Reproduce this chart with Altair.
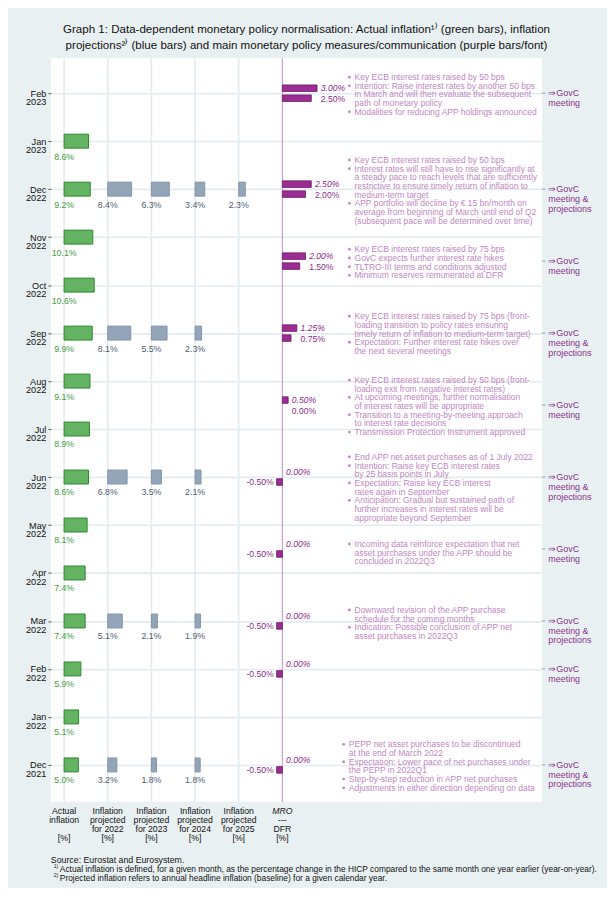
import altair as alt
import pandas as pd

# ---------------- data ----------------
months = ["Dec 2021", "Jan 2022", "Feb 2022", "Mar 2022", "Apr 2022", "May 2022",
          "Jun 2022", "Jul 2022", "Aug 2022", "Sep 2022", "Oct 2022", "Nov 2022",
          "Dec 2022", "Jan 2023", "Feb 2023"]
actual_inflation = [5.0, 5.1, 5.9, 7.4, 7.4, 8.1, 8.6, 8.9, 9.1, 9.9, 10.6, 10.1, 9.2, 8.6, None]

proj_months = ["Dec 2021", "Mar 2022", "Jun 2022", "Sep 2022", "Dec 2022"]
proj_2022 = [3.2, 5.1, 6.8, 8.1, 8.4]
proj_2023 = [1.8, 2.1, 3.5, 5.5, 6.3]
proj_2024 = [1.8, 1.9, 2.1, 2.3, 3.4]
proj_2025 = [None, None, None, None, 2.3]

# meeting position on the month axis (index into months; .5 = between two months)
meeting_pos = [14, 12, 10.5, 9, 7.5, 6, 4.5, 3, 2, 0]
mro_rate = [3.00, 2.50, 2.00, 1.25, 0.50, 0.00, 0.00, 0.00, 0.00, 0.00]
dfr_rate = [2.50, 2.00, 1.50, 0.75, 0.00, -0.50, -0.50, -0.50, -0.50, -0.50]
meeting_type = ["⇒GovC\nmeeting", "⇒GovC\nmeeting &\nprojections", "⇒GovC\nmeeting",
                "⇒GovC\nmeeting &\nprojections", "⇒GovC\nmeeting", "⇒GovC\nmeeting &\nprojections",
                "⇒GovC\nmeeting", "⇒GovC\nmeeting &\nprojections", "⇒GovC\nmeeting",
                "⇒GovC\nmeeting &\nprojections"]
measures = [
    [["Key ECB interest rates raised by 50 bps"],
     ["Intention: Raise interest rates by another 50 bps",
      "in March and will then evaluate the subsequent", "path of monetary policy"],
     ["Modalities for reducing APP holdings announced"]],
    [["Key ECB interest rates raised by 50 bps"],
     ["Interest rates will still have to rise significantly at",
      "a steady pace to reach levels that are sufficiently",
      "restrictive to ensure timely return of inflation to", "medium-term target"],
     ["APP portfolio will decline by € 15 bn/month on",
      "average from beginning of March until end of Q2",
      "(subsequent pace will be determined over time)"]],
    [["Key ECB interest rates raised by 75 bps"],
     ["GovC expects further interest rate hikes"],
     ["TLTRO-III terms and conditions adjusted"],
     ["Minimum reserves remunerated at DFR"]],
    [["Key ECB interest rates raised by 75 bps (front-",
      "loading transition to policy rates ensuring",
      "timely return of inflation to medium-term target)"],
     ["Expectation: Further interest rate hikes over", "the next several meetings"]],
    [["Key ECB interest rates raised by 50 bps (front-",
      "loading exit from negative interest rates)"],
     ["At upcoming meetings, further normalisation",
      "of interest rates will be appropriate"],
     ["Transition to a meeting-by-meeting approach", "to interest rate decisions"],
     ["Transmission Protection Instrument approved"]],
    [["End APP net asset purchases as of 1 July 2022"],
     ["Intention: Raise key ECB interest rates", "by 25 basis points in July"],
     ["Expectation: Raise key ECB interest", "rates again in September"],
     ["Anticipation: Gradual but sustained path of",
      "further increases in interest rates will be", "appropriate beyond September"]],
    [["Incoming data reinforce expectation that net",
      "asset purchases under the APP should be", "concluded in 2022Q3"]],
    [["Downward revision of the APP purchase", "schedule for the coming months"],
     ["Indication: Possible conclusion of APP net", "asset purchases in 2022Q3"]],
    [],
    [["PEPP net asset purchases to be discontinued", "at the end of March 2022"],
     ["Expectation: Lower pace of net purchases under", "the PEPP in 2022Q1"],
     ["Step-by-step reduction in APP net purchases"],
     ["Adjustments in either direction depending on data"]],
]
column_labels = ["Actual\ninflation", "Inflation\nprojected\nfor 2022",
                 "Inflation\nprojected\nfor 2023", "Inflation\nprojected\nfor 2024",
                 "Inflation\nprojected\nfor 2025", "MRO\n---\nDFR"]
column_units = ["[%]", "[%]", "[%]", "[%]", "[%]", "[%]"]
title_lines = ["Graph 1: Data-dependent monetary policy normalisation: Actual inflation¹⁾ (green bars), inflation",
               "projections²⁾ (blue bars) and main monetary policy measures/communication (purple bars/font)"]
source_text = "Source: Eurostat and Eurosystem."
note1 = "Actual inflation is defined, for a given month, as the percentage change in the HICP compared to the same month one year earlier (year-on-year)."
note2 = "Projected inflation refers to annual headline inflation (baseline) for a given calendar year."
note_marks = ["1)", "2)"]

# ---------------- layout (pixels) ----------------
W, H = 493, 746
Y_TOP, Y_BOT = 14.727, -0.769
PPM = H / (Y_TOP - Y_BOT)          # pixels per month
COL0, COLSTEP = 13.3, 43.8         # column base positions
K_INFL, K_RATE = 2.85, 11.6        # px per percentage point
LINE_H = 8.7
block_offset_px = [1.3, 1.2, 1.2, 0.5, 1.0, 10.3, 3.7, 2.0, 0.0, 1.2]
block_shift_px = [0, 0, 0, 0, 0, 0, 0, 0, 0, -5.7]
TEXT_X = 304.7

FONT = "Liberation Sans"
GREEN_FILL, GREEN_STROKE, GREEN_TXT = "#63B363", "#2F8A2F", "#3E9B3E"
BLUE_FILL, BLUE_STROKE, BLUE_TXT = "#93A5B9", "#8295A9", "#4D5D70"
PURPLE_FILL, PURPLE_STROKE, PURPLE_TXT = "#9A2C94", "#6F1D6B", "#8C2C88"
BULLET_TXT = "#BE88C1"
GOVC_TXT = "#8B348B"
GRID = "#E4EBEF"


def col_base(c):
    return COL0 + COLSTEP * c


# inflation bars
rows = []
for i, v in enumerate(actual_inflation):
    if v is not None:
        rows.append(dict(col=0, pos=i, val=v, kind="actual"))
for j, pm in enumerate(proj_months):
    for c, arr in enumerate([proj_2022, proj_2023, proj_2024, proj_2025], start=1):
        if arr[j] is not None:
            rows.append(dict(col=c, pos=months.index(pm), val=arr[j], kind="proj"))
infl = pd.DataFrame(rows)
infl["x"] = infl["col"].map(col_base)
infl["x2"] = infl["x"] + infl["val"] * K_INFL
infl["y"] = infl["pos"] + 7 / PPM
infl["y2"] = infl["pos"] - 7 / PPM
infl["label"] = infl["val"].map(lambda v: f"{v:.1f}%")

# policy rates
base5 = col_base(5)
rate_rows = []
for p, m, d in zip(meeting_pos, mro_rate, dfr_rate):
    lab_x = base5 + max(m, 0) * K_RATE + 3.7
    rate_rows.append(dict(pos=p, rate="MRO", val=m, x=base5, x2=base5 + m * K_RATE,
                          y=p + 1.7 / PPM, y2=p + 8.3 / PPM, lx=lab_x, label=f"{m:.2f}%"))
    rate_rows.append(dict(pos=p, rate="DFR", val=d, x=base5, x2=base5 + d * K_RATE,
                          y=p - 1.7 / PPM, y2=p - 8.3 / PPM,
                          lx=lab_x if d >= 0 else base5 + d * K_RATE - 3, label=f"{d:.2f}%"))
rates = pd.DataFrame(rate_rows)

# measure text lines
line_rows = []
for b, bullets in enumerate(measures):
    lines = []
    for bl in bullets:
        for k, t in enumerate(bl):
            lines.append((t, k == 0))
    n = len(lines)
    for i, (t, is_bullet) in enumerate(lines):
        off = block_offset_px[b] + (i - (n - 1) / 2) * LINE_H
        line_rows.append(dict(text=t, bullet=is_bullet, y=meeting_pos[b] - off / PPM,
                              x=TEXT_X + block_shift_px[b], bx=TEXT_X + block_shift_px[b] - 5.2))
lines_df = pd.DataFrame(line_rows)

meet_df = pd.DataFrame(dict(pos=meeting_pos, label=meeting_type))
cols_df = pd.DataFrame(dict(col=list(range(6)), label=column_labels, unit=column_units))
cols_df["x"] = cols_df["col"].map(col_base)

# ---------------- encodings ----------------
xs = alt.Scale(domain=[0, W], nice=False, zero=False)
ys = alt.Scale(domain=[Y_BOT, Y_TOP], nice=False, zero=False)
js_months = "[" + ",".join(f"'{m}'" for m in months) + "]"
yaxis = alt.Axis(values=list(range(len(months))),
                 labelExpr=f"split({js_months}[round(datum.value)], ' ')",
                 title=None, domain=False, ticks=True, tickSize=3, tickColor="#555555",
                 labelFontSize=9.2, labelLineHeight=8.6, labelColor="#111111", labelPadding=2,
                 labelFont=FONT, labelBaseline="middle", labelAlign="right",
                 grid=True, gridColor=GRID, gridWidth=1.6)


def X(f):
    return alt.X(f, type="quantitative", scale=xs, axis=None)


def X2(f):
    return alt.X2(f)


def Y(f):
    return alt.Y(f, type="quantitative", scale=ys, axis=yaxis)


layers = []

# vertical gridlines
layers.append(alt.Chart(cols_df[cols_df.col < 5]).mark_rule(color=GRID, strokeWidth=1.6)
              .encode(x=X("x")))
layers.append(alt.Chart(cols_df[cols_df.col == 5]).mark_rule(color="#C7A2D0", strokeWidth=1.2)
              .encode(x=X("x")))

# inflation bars
act = infl[infl.kind == "actual"]
prj = infl[infl.kind == "proj"]
layers.append(alt.Chart(act).mark_rect(fill=GREEN_FILL, stroke=GREEN_STROKE, strokeWidth=1)
              .encode(x=X("x"), x2=X2("x2"), y=Y("y"), y2=alt.Y2("y2")))
layers.append(alt.Chart(prj).mark_rect(fill=BLUE_FILL, stroke=BLUE_STROKE, strokeWidth=1)
              .encode(x=X("x"), x2=X2("x2"), y=Y("y"), y2=alt.Y2("y2")))
layers.append(alt.Chart(act).mark_text(dy=15.5, fontSize=8.8, font=FONT, color=GREEN_TXT)
              .encode(x=X("x"), y=Y("pos"), text="label:N"))
layers.append(alt.Chart(prj).mark_text(dy=15.5, fontSize=8.8, font=FONT, color=BLUE_TXT)
              .encode(x=X("x"), y=Y("pos"), text="label:N"))

# policy rate bars
layers.append(alt.Chart(rates[rates.val != 0]).mark_rect(fill=PURPLE_FILL, stroke=PURPLE_STROKE,
                                                         strokeWidth=0.8)
              .encode(x=X("x"), x2=X2("x2"), y=Y("y"), y2=alt.Y2("y2")))
layers.append(alt.Chart(rates[rates.rate == "MRO"]).mark_text(
    dy=-5, align="left", fontSize=8.6, font=FONT, fontStyle="italic", color=PURPLE_TXT)
    .encode(x=X("lx"), y=Y("pos"), text="label:N"))
layers.append(alt.Chart(rates[(rates.rate == "DFR") & (rates.val >= 0)]).mark_text(
    dy=5.5, align="left", fontSize=8.6, font=FONT, color=PURPLE_TXT)
    .encode(x=X("lx"), y=Y("pos"), text="label:N"))
layers.append(alt.Chart(rates[(rates.rate == "DFR") & (rates.val < 0)]).mark_text(
    dy=5, align="right", fontSize=8.6, font=FONT, color=PURPLE_TXT)
    .encode(x=X("lx"), y=Y("pos"), text="label:N"))

# measures text
layers.append(alt.Chart(lines_df).mark_text(align="left", baseline="middle", fontSize=8.5,
                                            font=FONT, color=BULLET_TXT)
              .encode(x=X("x"), y=Y("y"), text="text:N"))
layers.append(alt.Chart(lines_df[lines_df.bullet]).mark_circle(size=8, color=BULLET_TXT, opacity=1)
              .encode(x=X("bx"), y=Y("y")))

# right-side GovC labels and ticks
layers.append(alt.Chart(meet_df).mark_rule(color="#999999", strokeWidth=1)
              .encode(x=alt.value(W), x2=alt.value(W + 3), y=Y("pos")))
layers.append(alt.Chart(meet_df).mark_text(align="left", baseline="middle", lineBreak="\n",
                                           lineHeight=9.8, fontSize=9, font=FONT, color=GOVC_TXT)
              .encode(x=alt.value(W + 6), y=Y("pos"), text="label:N"))

# bottom column labels
layers.append(alt.Chart(cols_df[cols_df.col < 5]).mark_text(
    align="center", baseline="top", lineBreak="\n", lineHeight=9, fontSize=8.7, font=FONT,
    color="#111111").encode(x=X("x"), y=alt.value(H + 5.5), text="label:N"))
layers.append(alt.Chart(cols_df[cols_df.col == 5]).mark_text(
    align="center", baseline="top", fontSize=8.7, font=FONT, fontStyle="italic", color="#111111")
    .encode(x=X("x"), y=alt.value(H + 5.5), text=alt.value("MRO")))
layers.append(alt.Chart(cols_df[cols_df.col == 5]).mark_text(
    align="center", baseline="top", lineBreak="\n", lineHeight=9, fontSize=8.7, font=FONT,
    color="#111111").encode(x=X("x"), y=alt.value(H + 14.5),
                            text=alt.Text("label:N")).transform_calculate(
    label="slice(datum.label, 4)"))
layers.append(alt.Chart(cols_df).mark_text(
    align="center", baseline="top", fontSize=8.7, font=FONT, color="#111111")
    .encode(x=X("x"), y=alt.value(H + 32.5), text="unit:N"))

# footer
layers.append(alt.Chart(pd.DataFrame(dict(t=[source_text]))).mark_text(
    align="left", baseline="middle", fontSize=8.8, font=FONT, color="#111111")
    .encode(x=alt.value(0), y=alt.value(804), text="t:N"))
layers.append(alt.Chart(pd.DataFrame(dict(t=[note1, note2], yy=[813.5, 822.5]))).mark_text(
    align="left", baseline="middle", fontSize=8.4, font=FONT, color="#111111")
    .encode(x=alt.value(9), y=alt.Y("yy:Q", scale=None, axis=None), text="t:N"))
layers.append(alt.Chart(pd.DataFrame(dict(t=note_marks, yy=[810.5, 819.5]))).mark_text(
    align="left", baseline="middle", fontSize=5, font=FONT, color="#111111")
    .encode(x=alt.value(3), y=alt.Y("yy:Q", scale=None, axis=None), text="t:N"))

chart = alt.layer(*layers).resolve_scale(y="shared").properties(
    width=W, height=H,
    padding={"left": 43, "top": 49, "right": 65, "bottom": 85},
    autosize=alt.AutoSizeParams(type="none"),
    background="#E9F0F2",
    title=alt.TitleParams(text=title_lines, fontSize=11.6, font=FONT, fontWeight="normal",
                          color="#111111", anchor="middle", dx=10, offset=6, lineHeight=15.5),
).configure_view(fill="white", stroke=None)

chart.save("out.html", embed_options={"renderer": "svg", "actions": False})
